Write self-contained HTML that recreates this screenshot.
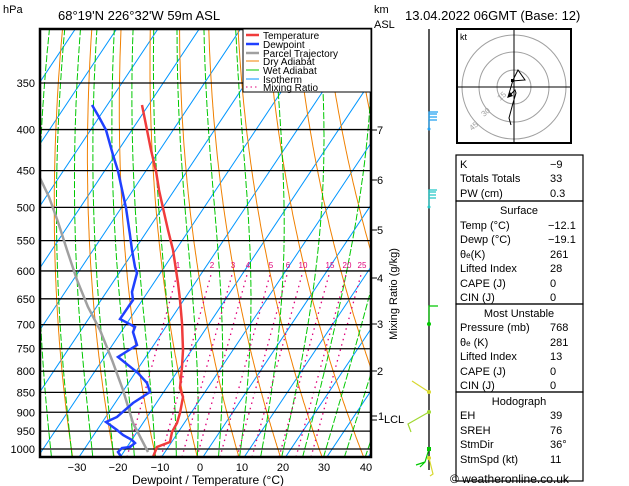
<!DOCTYPE html>
<html><head><meta charset="utf-8"><style>
html,body{margin:0;padding:0;background:#fff;width:629px;height:486px;overflow:hidden}
svg{display:block;font-family:"Liberation Sans",sans-serif}
</style></head><body>
<svg id="s" width="629" height="486" viewBox="0 0 629 486" xmlns="http://www.w3.org/2000/svg">
<defs><clipPath id="cp"><rect x="40" y="29" width="331" height="428"/></clipPath></defs>
<g id="bg" clip-path="url(#cp)"></g>
<g id="fg"></g>
</svg>
<script>
const NS="http://www.w3.org/2000/svg";
const bg=document.getElementById('bg'),fg=document.getElementById('fg');
function yP(p){return 449-348.6*Math.log(1000/p);}
function xT(T,y){return 203+4.13*T+(457-y)/1.5;}
function el(par,tag,at,txt){const e=document.createElementNS(NS,tag);for(const k in at)e.setAttribute(k,at[k]);if(txt!==undefined)e.textContent=txt;par.appendChild(e);return e;}
function poly(par,pts,st){el(par,'polyline',Object.assign({points:pts.map(p=>p[0].toFixed(1)+','+p[1].toFixed(1)).join(' '),fill:'none'},st));}
const ps=[];for(let p=1050;p>=290;p-=5)ps.push(p);
for(let T=-120;T<=50;T+=10){poly(bg,[[xT(T,470),470],[xT(T,20),20]],{stroke:'#0096ff','stroke-width':1});}
for(let th=220;th<=480;th+=10){poly(bg,ps.map(p=>{const y=yP(p);return [xT(th*Math.pow(p/1000,0.286)-273.15,y),y];}),{stroke:'#f08000','stroke-width':1});}
function es(T){return 6.112*Math.exp(17.67*T/(T+243.5));}
for(let T0=-45;T0<=45;T0+=5){let T=T0+273.15,pts=[];for(let p=1050;p>=290;p-=2){const y=yP(p);pts.push([xT(T-273.15,y),y]);const rs=0.622*es(T-273.15)/(p-es(T-273.15));const Lv=2.5e6,Rd=287,cp=1005;const dTdp=(Rd*T+Lv*rs)/(p*(cp+Lv*Lv*rs*0.622/(Rd*T*T)));T-=2*dTdp;}
poly(bg,pts,{stroke:'#00c800','stroke-width':1,'stroke-dasharray':'7,2'});}
const mr=[[1,178],[2,212],[3,233],[4,248],[5,271],[6,288],[10,303],[15,330],[20,347],[25,362]];
for(const [w,x6] of mr){const x0=x6-48;poly(bg,[[x0-3,457],[x6,271]],{stroke:'#e0007a','stroke-width':1.3,'stroke-dasharray':'1.5,4'});
el(bg,'text',{x:x6,y:268,'font-size':8,fill:'#e0007a','text-anchor':'middle'},String(w));}
const plev=[350,400,450,500,550,600,650,700,750,800,850,900,950,1000];
for(const p of plev){const y=yP(p);el(fg,'line',{x1:40,x2:371,y1:y,y2:y,stroke:'#000','stroke-width':1.3});el(fg,'text',{x:35,y:y+4,'font-size':11,'text-anchor':'end'},String(p));}
poly(fg,[[148,452],[133,423],[123,390],[112,360],[100,330],[88,307],[77,280],[67,250],[58,222],[49,197],[40,178]],{stroke:'#a0a0a0','stroke-width':2.5});
poly(fg,[[122,458],[118,452],[122,448],[130,447],[135,443],[132,440],[123,435],[117,430],[106,422],[117,417],[133,403],[150,392],[147,383],[138,373],[118,357],[137,345],[133,332],[135,327],[120,319],[133,300],[132,292],[137,273],[135,267],[132,250],[130,235],[126,208],[121,185],[118,171],[113,155],[106,130],[99,117],[92,105]],{stroke:'#2040ff','stroke-width':2.5});
poly(fg,[[153,457],[157,447],[170,442],[172,432],[177,423],[180,413],[183,397],[180,388],[182,367],[183,350],[182,323],[180,300],[178,283],[176,270],[173,250],[168,230],[163,208],[159,190],[156,171],[151,150],[147,130],[142,105]],{stroke:'#f03c3c','stroke-width':2.5});
</script>
<svg style="position:absolute;left:0;top:0" width="629" height="486" xmlns="http://www.w3.org/2000/svg" font-family="Liberation Sans, sans-serif">
<rect x="40" y="29" width="331" height="428" fill="none" stroke="#000" stroke-width="2.5"/>
<text x="3" y="13" font-size="11">hPa</text>
<text x="58" y="20" font-size="13">68°19'N  226°32'W  59m  ASL</text>
<text x="374" y="13" font-size="11">km</text>
<text x="374" y="28" font-size="11">ASL</text>
<text x="405" y="20" font-size="13">13.04.2022  06GMT  (Base: 12)</text>
<rect x="243" y="29" width="128" height="63" fill="#fff" stroke="#000" stroke-width="1"/>
<g font-size="10">
<line x1="246" x2="259" y1="35" y2="35" stroke="#f03c3c" stroke-width="2.5"/><text x="263" y="39">Temperature</text>
<line x1="246" x2="259" y1="44" y2="44" stroke="#2040ff" stroke-width="2.5"/><text x="263" y="48">Dewpoint</text>
<line x1="246" x2="259" y1="53" y2="53" stroke="#a0a0a0" stroke-width="2.5"/><text x="263" y="57">Parcel Trajectory</text>
<line x1="246" x2="259" y1="61" y2="61" stroke="#f08000"/><text x="263" y="65">Dry Adiabat</text>
<line x1="246" x2="259" y1="70" y2="70" stroke="#00c800"/><text x="263" y="74">Wet Adiabat</text>
<line x1="246" x2="259" y1="79" y2="79" stroke="#0096ff"/><text x="263" y="83">Isotherm</text>
<line x1="246" x2="259" y1="87" y2="87" stroke="#e0007a" stroke-dasharray="1.5,3"/><text x="263" y="91">Mixing Ratio</text>
</g>
<g font-size="11" text-anchor="middle">
<text x="77" y="471">−30</text><text x="118" y="471">−20</text><text x="160" y="471">−10</text><text x="200" y="471">0</text><text x="242" y="471">10</text><text x="283" y="471">20</text><text x="324" y="471">30</text><text x="366" y="471">40</text>
</g>
<text x="208" y="484" font-size="12" text-anchor="middle">Dewpoint / Temperature (°C)</text>
<g font-size="11" stroke="#000">
<line x1="371" x2="377" y1="130" y2="130"/><line x1="371" x2="377" y1="180" y2="180"/><line x1="371" x2="377" y1="230" y2="230"/><line x1="371" x2="377" y1="278" y2="278"/><line x1="371" x2="377" y1="324" y2="324"/><line x1="371" x2="377" y1="371" y2="371"/><line x1="371" x2="377" y1="416" y2="416"/><line x1="371" x2="377" y1="420" y2="420"/>
</g>
<g font-size="11">
<text x="377" y="134">7</text><text x="377" y="184">6</text><text x="377" y="234">5</text><text x="377" y="282">4</text><text x="377" y="328">3</text><text x="377" y="375">2</text><text x="378" y="420">1</text><text x="384" y="423">LCL</text>
</g>
<text transform="translate(397,294) rotate(-90)" font-size="11" text-anchor="middle">Mixing Ratio (g/kg)</text>
<line x1="429" x2="429" y1="29" y2="470" stroke="#000" stroke-width="1.3"/>
<g stroke-width="1.2" fill="none">
<path d="M429,128 V112 H438 M429,114 H437 M429,117 H437 M429,120 H437" stroke="#20a0f0"/>
<circle cx="429" cy="129" r="1.5" fill="#20a0f0" stroke="none"/>
<path d="M429,207 V190 H437 M429,192 H436 M429,195 H436 M429,198 H436" stroke="#20c8c8"/>
<circle cx="429" cy="207" r="1.5" fill="#20c8c8" stroke="none"/>
<path d="M429,324 V306 H438" stroke="#00c800"/><circle cx="429" cy="324" r="2" fill="#00c800" stroke="none"/>
<path d="M429,392 L412,381" stroke="#d8d830"/><circle cx="429" cy="392" r="2" fill="#d8d830" stroke="none"/>
<path d="M429,412 L408,424 L411,432" stroke="#a0d830"/><circle cx="429" cy="412" r="2" fill="#a0d830" stroke="none"/>
<path d="M429,449 L425,462 L416,465 M425,462 L420,467" stroke="#00c800"/><rect x="427" y="447" width="4" height="4" fill="#00c800" stroke="none"/>
<path d="M429,458 L433,474 L430,476" stroke="#d8d830"/><circle cx="429" cy="458" r="2" fill="#d8d830" stroke="none"/>
</g>
<rect x="457" y="29" width="114" height="114" fill="#fff" stroke="#000" stroke-width="2"/>
<g fill="none" stroke="#a0a0a0">
<circle cx="514" cy="87" r="17"/><circle cx="514" cy="87" r="35"/><circle cx="514" cy="87" r="52"/>
</g>
<line x1="458" x2="570" y1="87" y2="87" stroke="#000"/><line x1="514" x2="514" y1="30" y2="142" stroke="#000"/>
<text x="460" y="40" font-size="9">kt</text>
<text x="500" y="101" font-size="8" fill="#a0a0a0" transform="rotate(-40 500 101)">15</text>
<text x="484" y="117" font-size="8" fill="#a0a0a0" transform="rotate(-40 484 117)">30</text>
<text x="472" y="131" font-size="8" fill="#a0a0a0" transform="rotate(-40 472 131)">45</text>
<polyline points="511,125 509,118 513,103 516,93 515,90 508,97 513,80 518,70 525,80 512,81" fill="none" stroke="#000"/>
<rect x="511" y="79" width="3" height="3"/>
<path d="M507,98 L510,92 L513,96 Z" fill="#000"/>
<g fill="none" stroke="#000" stroke-width="1.2">
<rect x="456" y="155" width="127" height="46"/><rect x="456" y="201" width="127" height="103"/><rect x="456" y="304" width="127" height="88"/><rect x="456" y="392" width="127" height="89"/>
</g>
<g font-size="11">
<text x="460" y="168">K</text><text x="550" y="168">−9</text>
<text x="460" y="182">Totals Totals</text><text x="550" y="182">33</text>
<text x="460" y="197">PW (cm)</text><text x="550" y="197">0.3</text>
<text x="519" y="214" text-anchor="middle">Surface</text>
<text x="460" y="229">Temp (°C)</text><text x="548" y="229">−12.1</text>
<text x="460" y="243">Dewp (°C)</text><text x="548" y="243">−19.1</text>
<text x="460" y="258">θ<tspan font-size="8">e</tspan>(K)</text><text x="550" y="258">261</text>
<text x="460" y="272">Lifted Index</text><text x="550" y="272">28</text>
<text x="460" y="287">CAPE (J)</text><text x="550" y="287">0</text>
<text x="460" y="301">CIN (J)</text><text x="550" y="301">0</text>
<text x="519" y="317" text-anchor="middle">Most Unstable</text>
<text x="460" y="331">Pressure (mb)</text><text x="550" y="331">768</text>
<text x="460" y="346">θ<tspan font-size="8">e</tspan> (K)</text><text x="550" y="346">281</text>
<text x="460" y="360">Lifted Index</text><text x="550" y="360">13</text>
<text x="460" y="375">CAPE (J)</text><text x="550" y="375">0</text>
<text x="460" y="389">CIN (J)</text><text x="550" y="389">0</text>
<text x="519" y="405" text-anchor="middle">Hodograph</text>
<text x="460" y="419">EH</text><text x="550" y="419">39</text>
<text x="460" y="434">SREH</text><text x="550" y="434">76</text>
<text x="460" y="448">StmDir</text><text x="550" y="448">36°</text>
<text x="460" y="463">StmSpd (kt)</text><text x="550" y="463">11</text>
</g>
<text x="450" y="483" font-size="12">© weatheronline.co.uk</text>
</svg>
</body></html>
